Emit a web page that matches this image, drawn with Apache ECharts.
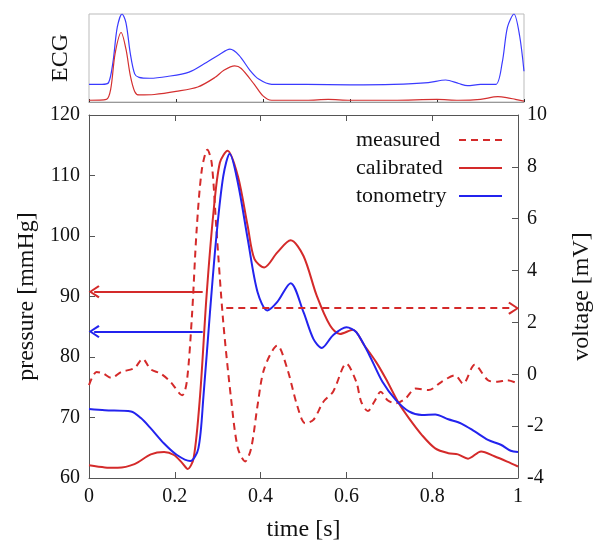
<!DOCTYPE html>
<html>
<head>
<meta charset="utf-8">
<script src="https://cdn.jsdelivr.net/npm/echarts@6/dist/echarts.min.js"></script>
<style>html,body{margin:0;padding:0;background:#fff}#c{width:602px;height:547px}</style>
</head>
<body>
<div id="c"></div>
<script>
// ---- Data ----
// ECG (top panel, arbitrary units 0..1)
var ecgTonoT = [0, 0.03, 0.045, 0.055, 0.065, 0.076, 0.085, 0.095, 0.105, 0.115, 0.14, 0.18, 0.23, 0.27, 0.3, 0.324, 0.345, 0.37, 0.39, 0.42, 0.5, 0.6, 0.7, 0.78, 0.82, 0.85, 0.87, 0.9, 0.935, 0.95, 0.962, 0.977, 0.99, 1.0];
var ecgTono  = [0.2, 0.2, 0.22, 0.45, 0.85, 1.0, 0.9, 0.55, 0.32, 0.28, 0.27, 0.29, 0.34, 0.45, 0.54, 0.6, 0.53, 0.36, 0.26, 0.2, 0.2, 0.195, 0.2, 0.22, 0.25, 0.21, 0.185, 0.2, 0.2, 0.45, 0.85, 1.0, 0.75, 0.35];
var ecgCalT = [0, 0.04, 0.05, 0.06, 0.074, 0.085, 0.095, 0.105, 0.115, 0.15, 0.2, 0.25, 0.29, 0.31, 0.335, 0.35, 0.38, 0.4, 0.42, 0.5, 0.55, 0.6, 0.7, 0.8, 0.85, 0.9, 0.94, 0.96, 0.98, 1.0];
var ecgCal  = [0.02, 0.03, 0.15, 0.55, 0.79, 0.6, 0.3, 0.12, 0.08, 0.085, 0.12, 0.17, 0.28, 0.36, 0.41, 0.38, 0.2, 0.07, 0.02, 0.02, 0.03, 0.02, 0.02, 0.03, 0.02, 0.03, 0.06, 0.05, 0.03, 0.01];

// Main panel
var calT = [0, 0.037, 0.067, 0.106, 0.144, 0.175, 0.198, 0.217, 0.23, 0.244, 0.259, 0.274, 0.29, 0.305, 0.323, 0.347, 0.37, 0.3855, 0.4085, 0.439, 0.47, 0.5, 0.531, 0.562, 0.585, 0.615, 0.642, 0.669, 0.692, 0.7225, 0.7456, 0.776, 0.807, 0.8375, 0.86, 0.8835, 0.914, 0.945, 0.975, 1.0];
var calibrated = [62.1, 61.75, 61.7, 62.3, 63.9, 64.3, 63.8, 62.5, 61.5, 63.3, 73.7, 90.1, 103.8, 112.1, 114.1, 109.9, 101.6, 96.2, 94.8, 97.3, 99.3, 96.7, 90.1, 85.2, 83.8, 84.5, 81.9, 79.2, 76.4, 72.3, 69.9, 67.1, 64.9, 64.1, 63.9, 63.2, 64.4, 63.6, 62.7, 61.9];

var tonoT = [0, 0.037, 0.098, 0.121, 0.144, 0.175, 0.205, 0.236, 0.255, 0.267, 0.282, 0.297, 0.313, 0.328, 0.347, 0.37, 0.393, 0.416, 0.439, 0.47, 0.5, 0.523, 0.5425, 0.569, 0.6, 0.623, 0.6536, 0.684, 0.715, 0.7456, 0.776, 0.807, 0.8375, 0.868, 0.899, 0.93, 0.96, 0.983, 1.0];
var tonometry = [71.4, 71.2, 71.0, 69.9, 68.2, 65.7, 63.8, 62.8, 64.9, 73.7, 87.4, 100, 109.9, 113.6, 108.8, 99.5, 90.7, 87.7, 89.1, 92.2, 87.4, 83, 81.5, 83.6, 84.9, 84.1, 80.3, 75.9, 72.9, 71, 70.4, 70.5, 69.7, 69, 67.7, 66.3, 65.5, 64.5, 64.3];

var measT = [0, 0.0176, 0.033, 0.052, 0.075, 0.106, 0.125, 0.144, 0.167, 0.19, 0.217, 0.228, 0.24, 0.251, 0.263, 0.276, 0.286, 0.297, 0.313, 0.332, 0.347, 0.364, 0.378, 0.393, 0.4085, 0.439, 0.462, 0.485, 0.504, 0.523, 0.5464, 0.569, 0.6, 0.623, 0.6345, 0.65, 0.665, 0.68, 0.696, 0.715, 0.738, 0.761, 0.7915, 0.822, 0.853, 0.872, 0.899, 0.93, 0.952, 0.975, 1.0];
var measured = [-0.42, 0.09, 0.03, -0.14, 0.09, 0.24, 0.6, 0.19, 0.03, -0.29, -0.81, -0.29, 2.26, 5.59, 7.89, 8.66, 8.15, 5.59, 2.0, -1.06, -2.85, -3.36, -2.85, -1.19, 0.22, 1.11, 0.22, -1.19, -1.89, -1.76, -1.06, -0.67, 0.41, -0.29, -1.06, -1.42, -1.06, -0.67, -1.0, -1.12, -0.93, -0.55, -0.61, -0.29, -0.04, -0.36, 0.37, -0.23, -0.29, -0.23, -0.36];

// Annotation arrows: [from t, to t, level]
var arrowCal = [0.265, 0.012, 90.8];
var arrowTono = [0.265, 0.012, 84.2];
var arrowMeas = [0.32, 0.99, 2.55];

// ---- Chart ----
function zip(a, b) { return a.map(function (v, i) { return [v, b[i]]; }); }
var RED = '#d42a2a', BLUE = '#2323ee';
var FONT = 'Liberation Serif';
var chevron = 'path://M50,0 L100,88 L88,100 L50,30 L12,100 L0,88 Z';
function arrowLine(a, color, dashed) {
  return {
    silent: true,
    symbol: ['none', chevron],
    symbolSize: [13, 11],
    label: { show: false },
    emphasis: { disabled: true },
    lineStyle: { color: color, width: 1.8, type: dashed ? [7, 5] : 'solid' },
    data: [[{ coord: [a[0], a[2]] }, { coord: [a[1], a[2]] }]]
  };
}

var chart = echarts.init(document.getElementById('c'));
var frameMain = { onZero: false, lineStyle: { color: '#555', width: 1 } };
var tickMain = { inside: true, length: 6, lineStyle: { color: '#555' } };
var labelStyle = { color: '#111', fontFamily: FONT, fontSize: 20 };
var nameStyle = { color: '#111', fontFamily: FONT, fontSize: 24 };

chart.setOption({
  animation: false,
  textStyle: { fontFamily: FONT },
  grid: [
    { left: 89, top: 14, width: 435, height: 88, show: true, borderColor: '#bbb', borderWidth: 1 },
    { left: 89, top: 115, width: 435, height: 365 }
  ],
  legend: {
    data: ['measured', 'calibrated', 'tonometry'],
    orient: 'vertical',
    left: 351,
    top: 124,
    align: 'right',
    itemWidth: 43,
    itemHeight: 14,
    itemGap: 6,
    selectedMode: false,
    itemStyle: { opacity: 0 },
    formatter: '{n|{name}}',
    textStyle: {
      fontFamily: FONT, fontSize: 22, color: '#111',
      rich: { n: { fontFamily: FONT, fontSize: 22, color: '#111', width: 98, align: 'left' } }
    }
  },
  xAxis: [
    { gridIndex: 0, type: 'value', min: 0, max: 1, interval: 0.2, position: 'bottom',
      axisLine: { onZero: false, lineStyle: { color: '#999' } }, axisTick: { inside: true, length: 3, lineStyle: { color: '#333' } },
      axisLabel: { show: false }, splitLine: { show: false } },
    { gridIndex: 1, type: 'value', min: 0, max: 1, interval: 0.2, position: 'bottom',
      name: 'time [s]', nameLocation: 'middle', nameGap: 40, nameTextStyle: nameStyle,
      axisLine: frameMain, axisTick: tickMain, axisLabel: Object.assign({ margin: 9 }, labelStyle),
      splitLine: { show: false } },
    { gridIndex: 1, type: 'value', min: 0, max: 1, interval: 0.2, position: 'top',
      axisLine: frameMain, axisTick: tickMain, axisLabel: { show: false }, splitLine: { show: false } }
  ],
  yAxis: [
    { gridIndex: 0, type: 'value', min: 0, max: 1, position: 'left',
      name: 'ECG', nameLocation: 'middle', nameRotate: 90, nameGap: 16, nameTextStyle: nameStyle,
      axisLine: { show: false }, axisTick: { show: false }, axisLabel: { show: false }, splitLine: { show: false } },
    { gridIndex: 1, type: 'value', min: 60, max: 120, interval: 10, position: 'left',
      name: 'pressure [mmHg]', nameLocation: 'middle', nameRotate: 90, nameGap: 40, nameTextStyle: nameStyle,
      axisLine: frameMain, axisTick: tickMain, axisLabel: Object.assign({ margin: 9 }, labelStyle),
      splitLine: { show: false } },
    { gridIndex: 1, type: 'value', min: -4, max: 10, interval: 2, position: 'right',
      name: 'voltage [mV]', nameLocation: 'middle', nameRotate: 90, nameGap: 52, nameTextStyle: nameStyle,
      axisLine: frameMain, axisTick: tickMain, axisLabel: Object.assign({ margin: 9 }, labelStyle),
      splitLine: { show: false } }
  ],
  series: [
    { name: 'ecgTono', type: 'line', xAxisIndex: 0, yAxisIndex: 0, data: zip(ecgTonoT, ecgTono),
      smooth: 0.3, symbol: 'none', lineStyle: { color: '#3a3aff', width: 1.2 }, itemStyle: { color: '#3a3aff' } },
    { name: 'ecgCal', type: 'line', xAxisIndex: 0, yAxisIndex: 0, data: zip(ecgCalT, ecgCal),
      smooth: 0.3, symbol: 'none', lineStyle: { color: '#d43030', width: 1.2 }, itemStyle: { color: '#d43030' } },
    { name: 'measured', type: 'line', xAxisIndex: 1, yAxisIndex: 2, data: zip(measT, measured),
      smooth: 0.3, symbol: 'none', lineStyle: { color: RED, width: 2, type: [7, 5] }, itemStyle: { color: RED },
      markLine: arrowLine(arrowMeas, RED, true) },
    { name: 'calibrated', type: 'line', xAxisIndex: 1, yAxisIndex: 1, data: zip(calT, calibrated),
      smooth: 0.3, symbol: 'none', lineStyle: { color: RED, width: 2 }, itemStyle: { color: RED },
      markLine: arrowLine(arrowCal, RED, false) },
    { name: 'tonometry', type: 'line', xAxisIndex: 1, yAxisIndex: 1, data: zip(tonoT, tonometry),
      smooth: 0.3, symbol: 'none', lineStyle: { color: BLUE, width: 2 }, itemStyle: { color: BLUE },
      markLine: arrowLine(arrowTono, BLUE, false) }
  ]
});
</script>
</body>
</html>
